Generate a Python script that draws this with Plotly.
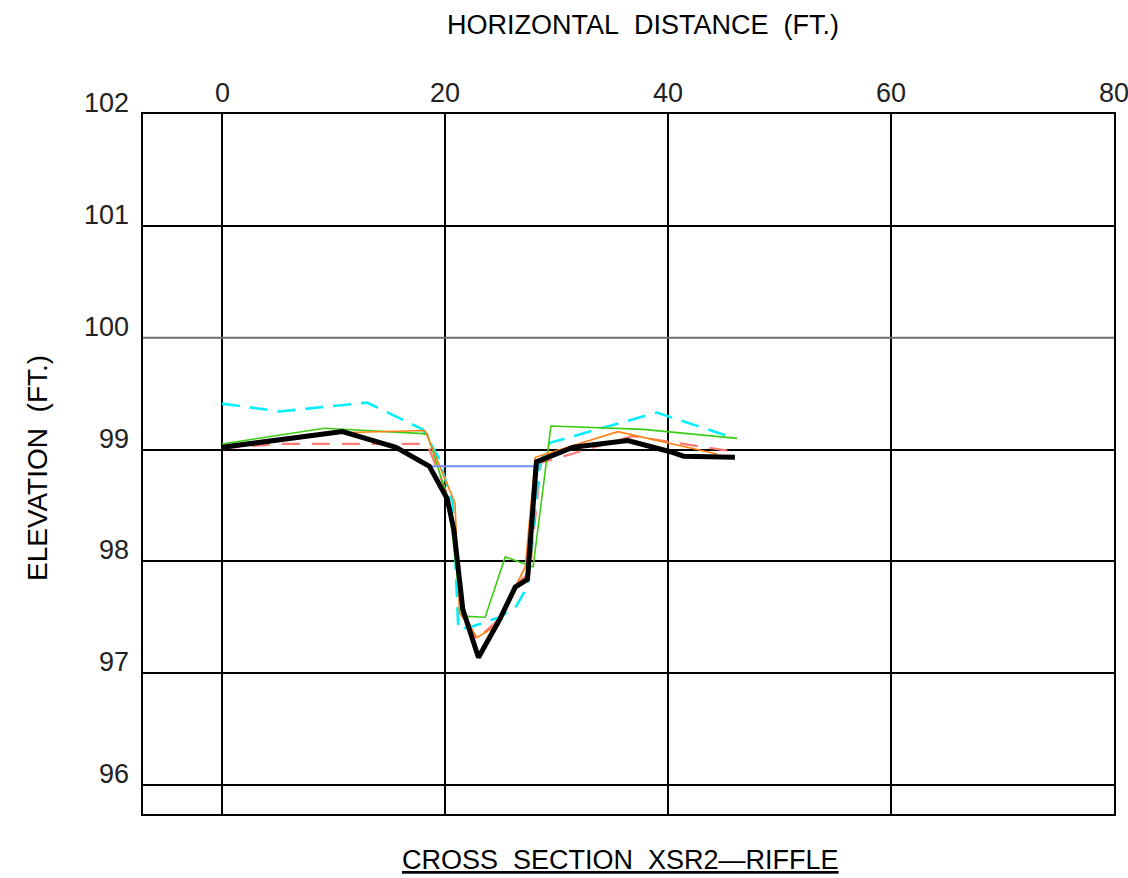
import plotly.graph_objects as go

# ---- data ----
x_ticks = [0, 20, 40, 60, 80]
y_ticks = [96, 97, 98, 99, 100, 101, 102]

black_x = [0, 10.8, 15.6, 18.6, 20.2, 20.8, 21.6, 23.0, 24.9, 26.3, 27.4, 28.2, 31.5, 36.4, 40.2, 41.4, 46.0]
black_y = [99.02, 99.16, 99.02, 98.85, 98.56, 98.28, 97.57, 97.14, 97.48, 97.77, 97.84, 98.89, 99.02, 99.08, 98.98, 98.94, 98.93]

green_x = [0, 9.2, 18.4, 20.3, 21.5, 23.6, 25.4, 27.2, 27.9, 29.5, 37.8, 46.2]
green_y = [99.05, 99.19, 99.14, 98.55, 97.51, 97.50, 98.04, 97.97, 97.95, 99.21, 99.18, 99.10]

orange_x = [0, 10.6, 18.2, 20.9, 21.3, 22.9, 24.5, 26.3, 27.2, 28.1, 35.5, 44.4]
orange_y = [99.02, 99.15, 99.17, 98.52, 97.54, 97.32, 97.42, 97.78, 97.95, 98.93, 99.16, 98.96]

red_x = [0, 5.0, 18.4, 20.4, 21.5, 22.8, 24.6, 26.4, 27.6, 28.6, 36.8, 42.2, 46.0]
red_y = [99.01, 99.05, 99.05, 98.55, 97.60, 97.30, 97.46, 97.80, 97.90, 98.88, 99.12, 99.04, 98.98]

cyan_x = [0, 5.2, 13.0, 18.0, 19.4, 20.7, 21.2, 22.5, 24.9, 26.4, 27.4, 28.5, 29.4, 39.0, 46.0]
cyan_y = [99.41, 99.34, 99.42, 99.18, 98.93, 98.52, 97.39, 97.42, 97.50, 97.60, 97.78, 98.88, 99.06, 99.33, 99.10]

water_x = [18.65, 28.3]
water_y = [98.85, 98.85]

FONT = "Liberation Sans"
W, H = 1128, 878
L, R, T, B = 143, 14, 114, 64
pw, ph = W - L - R, H - T - B


def px_to_paper(px, py):
    return (px - L) / pw, 1 - (py - T) / ph


fig = go.Figure()
fig.add_trace(go.Scatter(x=red_x, y=red_y, mode="lines",
                         line=dict(color="#ff7b72", width=2.2, dash="18px,12px")))
fig.add_trace(go.Scatter(x=cyan_x, y=cyan_y, mode="lines",
                         line=dict(color="#00f0ff", width=2.6, dash="18px,10px")))
fig.add_trace(go.Scatter(x=green_x, y=green_y, mode="lines",
                         line=dict(color="#3ccc14", width=1.6)))
fig.add_trace(go.Scatter(x=orange_x, y=orange_y, mode="lines",
                         line=dict(color="#ff8010", width=1.6)))
fig.add_trace(go.Scatter(x=water_x, y=water_y, mode="lines",
                         line=dict(color="#6f8ff0", width=2)))
fig.add_trace(go.Scatter(x=black_x, y=black_y, mode="lines",
                         line=dict(color="black", width=5)))

# gray line at 100
fig.add_shape(type="line", xref="paper", x0=0, x1=1, yref="y", y0=100, y1=100,
              line=dict(color="#6e6e6e", width=2), layer="above")

# tick labels as annotations (offset like the CAD drawing)
for v in x_ticks:
    fig.add_annotation(x=v, y=1, xref="x", yref="paper", text=str(v), showarrow=False,
                       yanchor="bottom", yshift=4, font=dict(family=FONT, size=27, color="#222"))
for v in y_ticks:
    fig.add_annotation(x=0, y=v, xref="paper", yref="y", text=str(v), showarrow=False,
                       xanchor="right", xshift=-12, yshift=11, font=dict(family=FONT, size=27, color="#222"))

fig.update_layout(
    width=W, height=H,
    margin=dict(l=L, r=R, t=T, b=B),
    paper_bgcolor="white", plot_bgcolor="white",
    showlegend=False,
    xaxis=dict(range=[-7.085, 80], tickvals=x_ticks[:-1], showticklabels=False,
               showgrid=True, gridcolor="black", gridwidth=2, zeroline=False,
               showline=True, linecolor="black", linewidth=2, mirror=True, ticks=""),
    yaxis=dict(range=[95.741, 102], tickvals=[96, 97, 98, 99, 101], showticklabels=False,
               showgrid=True, gridcolor="black", gridwidth=2, zeroline=False,
               showline=True, linecolor="black", linewidth=2, mirror=True, ticks=""),
)

# titles
ax, ay = px_to_paper(643, 25)
fig.add_annotation(x=ax, y=ay, xref="paper", yref="paper",
                   text="HORIZONTAL&nbsp;&nbsp;DISTANCE&nbsp;&nbsp;(FT.)", showarrow=False,
                   xanchor="center", yanchor="middle",
                   font=dict(family=FONT, size=27, color="black"))
ax, ay = px_to_paper(620, 860)
fig.add_annotation(x=ax, y=ay, xref="paper", yref="paper",
                   text="<u>CROSS&nbsp;&nbsp;SECTION&nbsp;&nbsp;XSR2—RIFFLE</u>", showarrow=False,
                   xanchor="center", yanchor="middle",
                   font=dict(family=FONT, size=27, color="black"))
ax, ay = px_to_paper(38, 468)
fig.add_annotation(x=ax, y=ay, xref="paper", yref="paper",
                   text="ELEVATION&nbsp;&nbsp;(FT.)", showarrow=False, textangle=-90,
                   xanchor="center", yanchor="middle",
                   font=dict(family=FONT, size=28, color="black"))

fig.write_html("out.html")
